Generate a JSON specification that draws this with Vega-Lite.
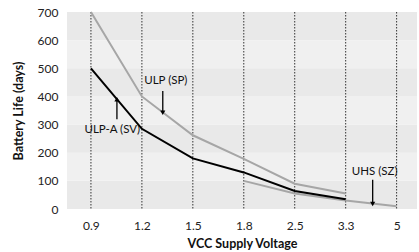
{
  "$schema": "https://vega.github.io/schema/vega-lite/v6.json",
  "width": 350,
  "height": 197,
  "autosize": {"type": "none"},
  "padding": {"left": 67, "top": 12, "right": 2, "bottom": 43},
  "config": {
    "view": {"stroke": null},
    "font": "Lato",
    "axis": {"labelFont": "Lato", "titleFont": "Lato", "labelColor": "#222", "titleColor": "#111"},
    "axisY": {"values": [0, 100, 200, 300, 400, 500, 600, 700], "labelOverlap": false, "grid": false, "domain": false, "ticks": false,
      "labelFontSize": 12, "labelPadding": 9, "titleFontSize": 12.5, "titleFontWeight": "bold", "titlePadding": 12},
    "axisX": {"values": [0, 1, 2, 3, 4, 5, 6], "labelOverlap": false, "grid": false, "domain": false, "ticks": false,
      "labelFontSize": 12, "labelPadding": 11, "titleFontSize": 12.5, "titleFontWeight": "bold", "titlePadding": 6}
  },
  "datasets": {
    "bands": [
      {"lo": 0, "hi": 100, "shade": "d"},
      {"lo": 100, "hi": 200, "shade": "l"},
      {"lo": 200, "hi": 300, "shade": "d"},
      {"lo": 300, "hi": 400, "shade": "l"},
      {"lo": 400, "hi": 500, "shade": "d"},
      {"lo": 500, "hi": 600, "shade": "l"},
      {"lo": 600, "hi": 700, "shade": "d"}
    ],
    "volts": [
      {"i": 0, "v": "0.9"}, {"i": 1, "v": "1.2"}, {"i": 2, "v": "1.5"}, {"i": 3, "v": "1.8"},
      {"i": 4, "v": "2.5"}, {"i": 5, "v": "3.3"}, {"i": 6, "v": "5"}
    ],
    "series": [
      {"i": 0, "series": "ULP (SP)", "life": 700},
      {"i": 1, "series": "ULP (SP)", "life": 400},
      {"i": 2, "series": "ULP (SP)", "life": 262},
      {"i": 3, "series": "ULP (SP)", "life": 178},
      {"i": 4, "series": "ULP (SP)", "life": 90},
      {"i": 5, "series": "ULP (SP)", "life": 55},
      {"i": 3, "series": "UHS (SZ)", "life": 100},
      {"i": 4, "series": "UHS (SZ)", "life": 55},
      {"i": 5, "series": "UHS (SZ)", "life": 30},
      {"i": 6, "series": "UHS (SZ)", "life": 10},
      {"i": 0, "series": "ULP-A (SV)", "life": 500},
      {"i": 1, "series": "ULP-A (SV)", "life": 285},
      {"i": 2, "series": "ULP-A (SV)", "life": 180},
      {"i": 3, "series": "ULP-A (SV)", "life": 130},
      {"i": 4, "series": "ULP-A (SV)", "life": 64},
      {"i": 5, "series": "ULP-A (SV)", "life": 35}
    ],
    "notes": [
      {"label": "ULP-A (SV)", "tx": 0.42, "ty": 280, "ax": 0.51, "tail": 319, "head": 390, "dir": "up"},
      {"label": "ULP (SP)", "tx": 1.47, "ty": 455, "ax": 1.41, "tail": 419, "head": 342, "dir": "down"},
      {"label": "UHS (SZ)", "tx": 5.57, "ty": 133, "ax": 5.53, "tail": 104, "head": 18, "dir": "down"}
    ]
  },
  "layer": [
    {
      "data": {"name": "bands"},
      "mark": {"type": "rect"},
      "encoding": {
        "y": {"field": "lo", "type": "quantitative", "scale": {"domain": [0, 700], "nice": false}, "title": "Battery Life (days)"},
        "y2": {"field": "hi"},
        "color": {"field": "shade", "type": "nominal", "scale": {"domain": ["d", "l"], "range": ["#e9e9e9", "#f0f0f0"]}, "legend": null}
      }
    },
    {
      "data": {"name": "volts"},
      "mark": {"type": "rule", "color": "#333", "strokeDash": [1.5, 1.5], "strokeWidth": 1},
      "encoding": {
        "x": {"field": "i", "type": "quantitative", "scale": {"domain": [-0.47, 6.4], "nice": false, "zero": false},
          "title": "VCC Supply Voltage",
          "axis": {"labelExpr": "['0.9','1.2','1.5','1.8','2.5','3.3','5'][datum.value]"}}
      }
    },
    {
      "data": {"name": "series"},
      "mark": {"type": "line"},
      "encoding": {
        "x": {"field": "i", "type": "quantitative", "title": "VCC Supply Voltage"},
        "y": {"field": "life", "type": "quantitative", "title": "Battery Life (days)"},
        "detail": {"field": "series"},
        "stroke": {"field": "series", "type": "nominal", "scale": {"domain": ["ULP (SP)", "UHS (SZ)", "ULP-A (SV)"], "range": ["#a6a6a6", "#a6a6a6", "#000000"]}, "legend": null},
        "strokeWidth": {"field": "series", "type": "nominal", "scale": {"domain": ["ULP (SP)", "UHS (SZ)", "ULP-A (SV)"], "range": [2, 2, 2.6]}, "legend": null}
      }
    },
    {
      "data": {"name": "notes"},
      "mark": {"type": "rule", "color": "#000", "strokeWidth": 1.3},
      "encoding": {
        "x": {"field": "ax", "type": "quantitative", "title": "VCC Supply Voltage"},
        "y": {"field": "tail", "type": "quantitative", "title": "Battery Life (days)"},
        "y2": {"field": "head"}
      }
    },
    {
      "data": {"name": "notes"},
      "mark": {"type": "point", "filled": true, "color": "#000", "size": 26, "opacity": 1},
      "encoding": {
        "x": {"field": "ax", "type": "quantitative", "title": "VCC Supply Voltage"},
        "y": {"field": "head", "type": "quantitative", "title": "Battery Life (days)"},
        "shape": {"field": "dir", "type": "nominal", "scale": {"domain": ["up", "down"], "range": ["triangle-up", "triangle-down"]}, "legend": null}
      }
    },
    {
      "data": {"name": "notes"},
      "mark": {"type": "text", "font": "Lato", "fontSize": 11.5, "color": "#111"},
      "encoding": {
        "x": {"field": "tx", "type": "quantitative", "title": "VCC Supply Voltage"},
        "y": {"field": "ty", "type": "quantitative", "title": "Battery Life (days)"},
        "text": {"field": "label"}
      }
    }
  ]
}
